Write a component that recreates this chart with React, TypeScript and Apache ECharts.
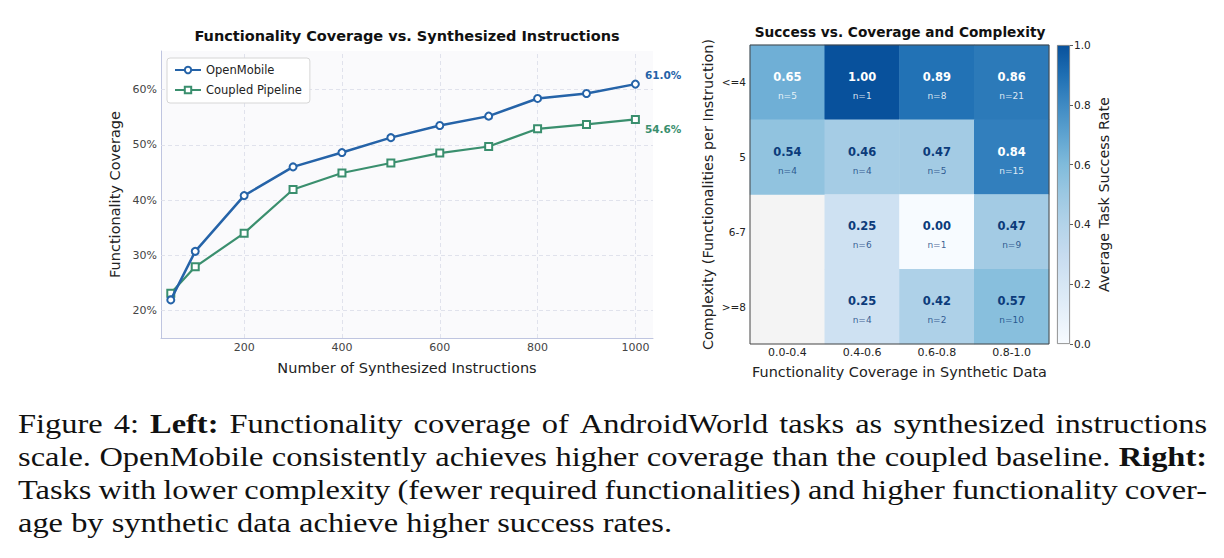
import React, { useEffect, useRef } from 'react';
import * as echarts from 'echarts';

// Left panel: functionality coverage (%) against number of synthesized instructions
const instructionCounts = [50, 100, 200, 300, 400, 500, 600, 700, 800, 900, 1000];
const openMobileCoverage = [21.9, 30.7, 40.8, 46.0, 48.6, 51.3, 53.5, 55.2, 58.4, 59.3, 61.0];
const coupledCoverage = [23.1, 27.9, 34.0, 41.9, 44.9, 46.7, 48.5, 49.7, 52.9, 53.7, 54.6];
const xGridValues = [200, 400, 600, 800, 1000];
const yGridValues = [20, 30, 40, 50, 60];

// Right panel: average task success rate by coverage bin and complexity bin
const coverageBins = ['0.0-0.4', '0.4-0.6', '0.6-0.8', '0.8-1.0'];
const complexityBins = ['<=4', '5', '6-7', '>=8'];
const successRate: (number | null)[][] = [
  [0.65, 1.0, 0.89, 0.86],
  [0.54, 0.46, 0.47, 0.84],
  [null, 0.25, 0.0, 0.47],
  [null, 0.25, 0.42, 0.57],
];
const taskCounts: (number | null)[][] = [
  [5, 1, 8, 21],
  [4, 4, 5, 15],
  [null, 6, 1, 9],
  [null, 4, 2, 10],
];

const blueScale = [
  '#f7fbff', '#e6f0f9', '#d6e6f4', '#c6dbef', '#b3d3e9', '#9cc8e2',
  '#80bbdb', '#5ea3d0', '#3f8ac3', '#1f6fb3', '#08519c',
];

const captionLines = [
  'Figure 4: **Left:** Functionality coverage of AndroidWorld tasks as synthesized instructions',
  'scale. OpenMobile consistently achieves higher coverage than the coupled baseline. **Right:**',
  'Tasks with lower complexity (fewer required functionalities) and higher functionality cover-',
  'age by synthetic data achieve higher success rates.',
];

const SANS = '"DejaVu Sans", sans-serif';
const SERIF = '"Liberation Serif", serif';
const BLUE = '#2563a8';
const GREEN = '#3a8f6e';
const NAVY = '#0c3b7a';

// Lays the caption out word by word, justified between the page margins
// (last line set ragged), with the serif face widened to a book-like width.
function buildCaption(): any[] {
  const canvas = document.createElement('canvas');
  const ctx = canvas.getContext('2d')!;
  const size = 27;
  const left = 18;
  const right = 1207;
  const lastLineWidth = 654;
  const firstMid = 424;
  const lineStep = 33;
  const measure = (text: string, bold: boolean) => {
    ctx.font = `${bold ? 'bold ' : ''}${size}px ${SERIF}`;
    return ctx.measureText(text).width;
  };
  const last = captionLines[captionLines.length - 1].replace(/\*\*/g, '');
  const widen = lastLineWidth / measure(last, false);
  const space = measure(' ', false) * widen;
  const out: any[] = [];
  captionLines.forEach((line, li) => {
    const words = line.split(' ').map((tok) => {
      const bold = tok.startsWith('**');
      const text = tok.replace(/\*\*/g, '');
      return { text, bold, w: measure(text, bold) * widen };
    });
    const total = words.reduce((s, w) => s + w.w, 0);
    const justify = li < captionLines.length - 1;
    const gap = justify ? (right - left - total) / (words.length - 1) : space;
    let x = left;
    words.forEach((w) => {
      out.push({
        type: 'text',
        x,
        y: firstMid + li * lineStep,
        scaleX: widen,
        silent: true,
        style: {
          text: w.text,
          fontSize: size,
          fontFamily: SERIF,
          fontWeight: w.bold ? 'bold' : 'normal',
          fill: '#111',
          align: 'left',
          verticalAlign: 'middle',
        },
      });
      x += w.w + gap;
    });
  });
  return out;
}

export default function App() {
  const ref = useRef<HTMLDivElement>(null);

  useEffect(() => {
    if (!ref.current) return;
    const chart = echarts.init(ref.current, undefined, { renderer: 'svg' });

    const lastIdx = instructionCounts.length - 1;
    const lineData = (vals: number[], color: string, dy: number) =>
      instructionCounts.map((x, i) =>
        i === lastIdx
          ? {
              value: [x, vals[i]],
              label: {
                show: true,
                position: 'right',
                offset: [0, dy],
                formatter: (p: any) => `${p.value[1].toFixed(1)}%`,
                fontWeight: 'bold',
                fontSize: 10.5,
                fontFamily: SANS,
                color,
              },
            }
          : { value: [x, vals[i]] }
      );

    const heatData: any[] = [];
    complexityBins.forEach((_, r) => {
      coverageBins.forEach((__, c) => {
        const v = successRate[r][c];
        if (v !== null) heatData.push({ value: [c, r, v], n: taskCounts[r][c] });
      });
    });

    const gradientStops = blueScale
      .slice()
      .reverse()
      .map((color, i) => ({ offset: i / (blueScale.length - 1), color }));

    const axisName = { fontSize: 14.4, color: '#222', fontFamily: SANS };

    chart.setOption({
      animation: false,
      textStyle: { fontFamily: SANS },
      title: [
        {
          text: 'Functionality Coverage vs. Synthesized Instructions',
          left: 407,
          top: 28,
          textAlign: 'center',
          padding: 0,
          textStyle: { fontSize: 14.5, fontWeight: 'bold', color: '#111', fontFamily: SANS },
        },
        {
          text: 'Success vs. Coverage and Complexity',
          left: 900,
          top: 25,
          textAlign: 'center',
          padding: 0,
          textStyle: { fontSize: 13.7, fontWeight: 'bold', color: '#111', fontFamily: SANS },
        },
      ],
      legend: {
        data: ['OpenMobile', 'Coupled Pipeline'],
        orient: 'vertical',
        left: 167,
        top: 58,
        itemWidth: 26,
        itemHeight: 8,
        itemGap: 8,
        padding: [6, 8, 7, 7],
        backgroundColor: 'rgba(255,255,255,0.92)',
        borderColor: '#d6d6d6',
        borderWidth: 1,
        borderRadius: 3,
        textStyle: { fontSize: 11.5, color: '#222', fontFamily: SANS },
      },
      grid: [
        { left: 161, top: 51, width: 492, height: 287, show: true, backgroundColor: '#fafafc', borderWidth: 0 },
        { left: 750, top: 45, width: 299, height: 299, show: true, backgroundColor: '#f4f4f4', borderWidth: 0 },
        { left: 1057, top: 45, width: 13, height: 299 },
      ],
      xAxis: [
        {
          type: 'value',
          gridIndex: 0,
          min: 30,
          max: 1036,
          name: 'Number of Synthesized Instructions',
          nameLocation: 'middle',
          nameGap: 22.5,
          nameTextStyle: { ...axisName, fontSize: 14.5 },
          axisLine: { show: true, lineStyle: { color: '#bfc5e0', width: 1 } },
          axisTick: { show: false },
          splitLine: { show: false },
          axisLabel: {
            color: '#444',
            fontSize: 11,
            margin: 4,
            showMinLabel: false,
            showMaxLabel: false,
            formatter: (v: number) => `${v}`,
          },
        },
        {
          type: 'category',
          gridIndex: 1,
          data: coverageBins,
          name: 'Functionality Coverage in Synthetic Data',
          nameLocation: 'middle',
          nameGap: 20.5,
          nameTextStyle: axisName,
          axisLine: { show: false },
          axisTick: { show: false },
          splitLine: { show: false },
          axisLabel: { color: '#222', fontSize: 11, margin: 3 },
        },
        { type: 'category', gridIndex: 2, data: [''], show: false },
      ],
      yAxis: [
        {
          type: 'value',
          gridIndex: 0,
          min: 15,
          max: 67,
          name: 'Functionality Coverage',
          nameLocation: 'middle',
          nameGap: 39,
          nameTextStyle: { ...axisName, fontSize: 14.5 },
          axisLine: { show: true, lineStyle: { color: '#bfc5e0', width: 1 } },
          axisTick: { show: false },
          splitLine: { show: false },
          axisLabel: {
            color: '#444',
            fontSize: 11,
            margin: 4,
            showMinLabel: false,
            showMaxLabel: false,
            formatter: '{value}%',
          },
        },
        {
          type: 'category',
          gridIndex: 1,
          data: complexityBins,
          inverse: true,
          name: 'Complexity (Functionalities per Instruction)',
          nameLocation: 'middle',
          nameGap: 35,
          nameTextStyle: axisName,
          axisLine: { show: false },
          axisTick: { show: false },
          splitLine: { show: false },
          axisLabel: { color: '#222', fontSize: 10.5, margin: 4 },
        },
        {
          type: 'value',
          gridIndex: 2,
          min: 0,
          max: 1,
          interval: 0.2,
          position: 'right',
          name: 'Average Task Success Rate',
          nameLocation: 'middle',
          nameRotate: 90,
          nameGap: 27,
          nameTextStyle: axisName,
          axisLine: { show: false },
          axisTick: { show: true, length: 3, lineStyle: { color: '#333', width: 0.8 } },
          splitLine: { show: false },
          axisLabel: {
            color: '#222',
            fontSize: 10.5,
            margin: 4,
            formatter: (v: number) => v.toFixed(1),
          },
        },
      ],
      visualMap: {
        show: false,
        type: 'continuous',
        min: 0,
        max: 1,
        dimension: 2,
        seriesIndex: 2,
        inRange: { color: blueScale },
      },
      series: [
        {
          name: 'OpenMobile',
          type: 'line',
          xAxisIndex: 0,
          yAxisIndex: 0,
          data: lineData(openMobileCoverage, BLUE, -9.5),
          color: BLUE,
          symbol: 'emptyCircle',
          symbolSize: 7,
          lineStyle: { width: 2.5, color: BLUE },
          itemStyle: { color: BLUE, borderWidth: 1.5 },
          z: 4,
          markLine: {
            silent: true,
            z: 1,
            symbol: 'none',
            label: { show: false },
            lineStyle: { color: '#dcdfea', type: [4, 3], width: 0.9 },
            data: [
              ...xGridValues.map((v) => ({ xAxis: v })),
              ...yGridValues.map((v) => ({ yAxis: v })),
            ],
          },
        },
        {
          name: 'Coupled Pipeline',
          type: 'line',
          xAxisIndex: 0,
          yAxisIndex: 0,
          data: lineData(coupledCoverage, GREEN, 9.6),
          color: GREEN,
          symbol: 'emptyRect',
          symbolSize: 7,
          lineStyle: { width: 2.2, color: GREEN },
          itemStyle: { color: GREEN, borderWidth: 1.5 },
          z: 3,
        },
        {
          type: 'heatmap',
          xAxisIndex: 1,
          yAxisIndex: 1,
          data: heatData,
          emphasis: { disabled: true },
          label: {
            show: true,
            offset: [0, 4],
            formatter: (p: any) => {
              const v = p.value[2];
              const dark = v < 0.6;
              return `{${dark ? 'vd' : 'v'}|${v.toFixed(2)}}\n{${dark ? 'nd' : 'n'}|n=${p.data.n}}`;
            },
            rich: {
              v: { color: '#fff', fontWeight: 'bold', fontSize: 11.5, lineHeight: 19, fontFamily: SANS },
              vd: { color: NAVY, fontWeight: 'bold', fontSize: 11.5, lineHeight: 19, fontFamily: SANS },
              n: { color: 'rgba(255,255,255,0.85)', fontSize: 9, lineHeight: 19, fontFamily: SANS },
              nd: { color: 'rgba(12,59,122,0.8)', fontSize: 9, lineHeight: 19, fontFamily: SANS },
            },
          },
        },
        {
          type: 'bar',
          xAxisIndex: 2,
          yAxisIndex: 2,
          data: [1],
          barWidth: '100%',
          silent: true,
          itemStyle: {
            color: new echarts.graphic.LinearGradient(0, 0, 0, 1, gradientStops),
            borderColor: '#777',
            borderWidth: 0.8,
          },
        },
      ],
      graphic: [
        {
          type: 'rect',
          silent: true,
          z: 100,
          shape: { x: 750, y: 45, width: 299, height: 299 },
          style: { fill: 'none', stroke: '#444', lineWidth: 1 },
        },
        ...buildCaption(),
      ],
    });

    return () => chart.dispose();
  }, []);

  return (
    <div
      ref={ref}
      style={{ position: 'absolute', left: 0, top: 0, width: 1224, height: 558, background: '#fff' }}
    />
  );
}
